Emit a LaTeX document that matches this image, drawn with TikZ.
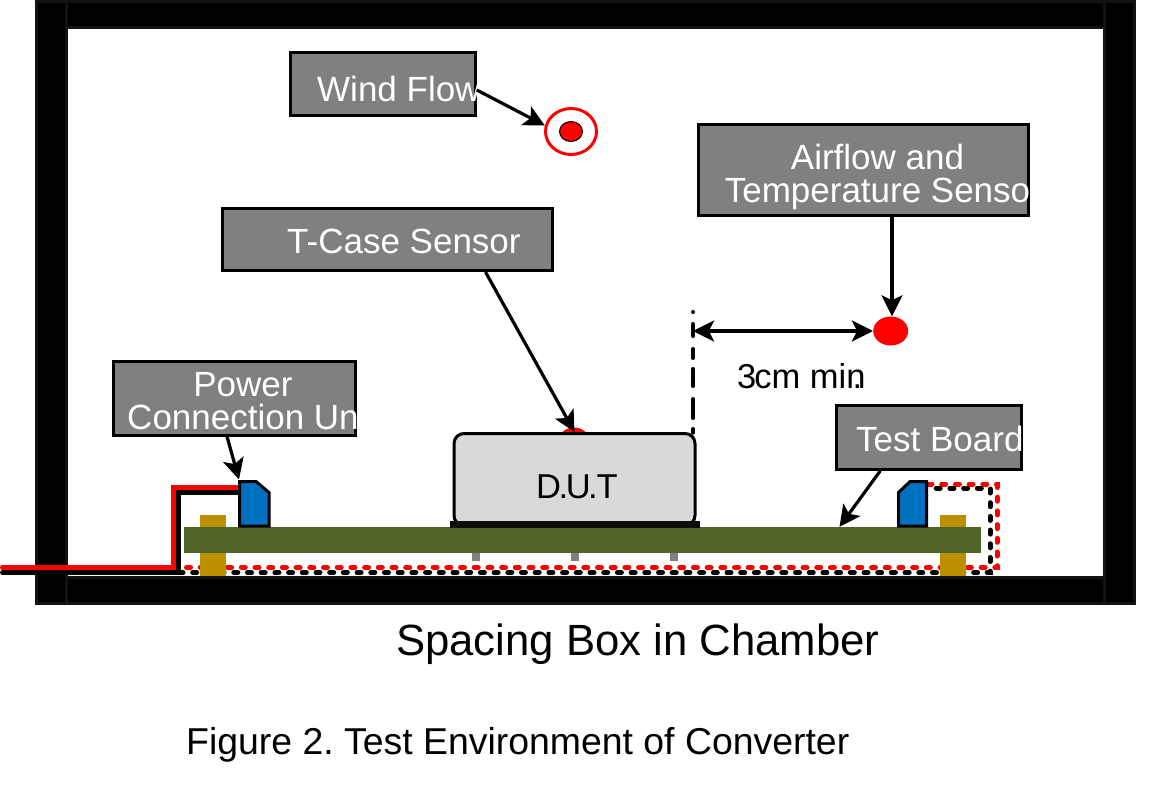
\documentclass[tikz,border=0pt]{standalone}
\usepackage{fontspec}
\setmainfont{Liberation Sans}
\frenchspacing
\usetikzlibrary{arrows.meta, shapes.geometric}
\definecolor{boardgreen}{HTML}{53642A}
\definecolor{standoff}{HTML}{BC8F00}
\definecolor{connblue}{HTML}{0070C0}
\definecolor{dutgray}{HTML}{D9D9D9}
\definecolor{walledge}{HTML}{121212}
\tikzset{
	wall/.style={fill=black, draw=walledge, line width=3pt},
	labelbox/.style={draw=black, fill=gray, line width=3pt, inner sep=0pt, rectangle},
	boxtext/.style={text=white, inner sep=0pt, align=center, font=\fontsize{35}{33}\selectfont},
	blacktext/.style={text=black, inner sep=0pt, font=\fontsize{34.5}{33}\selectfont},
	pointer/.style={line width=3.2pt, -{Stealth[length=21pt, width=21pt, inset=5pt]}},
	wire/.style={line width=5pt, line cap=round, miter limit=10},
	dashwire/.style={wire, dash pattern=on 4pt off 9.7pt},
}
\begin{document}
\begin{tikzpicture}[x=1pt, y=-1pt]
	\useasboundingbox (0, 0) rectangle (1170, 786);
	%wires
	\path (2.5, 567.5) coordinate (RedIn);
	\path (173, 487) coordinate (RedUp);
	\path (2.5, 572.5) coordinate (BlackIn);
	\path (178, 492) coordinate (BlackUp);
	\path (240, 487) coordinate (RedEnd);
	\path (240, 492) coordinate (BlackEnd);
	%walls
	\draw[wall] (36.5, 1.5) rectangle (1134.5, 27.5);
	\draw[wall] (36.5, 577.5) rectangle (1134.5, 603);
	\draw[wall] (36.5, 1.5) rectangle (66.5, 603);
	\draw[wall] (1104.5, 1.5) rectangle (1134.5, 603);
	%dashed wires
	\draw[dashwire, red] (186.5, 567.5)--(997, 567.5)--(997, 484)--(928, 484);
	\draw[dashwire, black] (179, 572.5)--(990, 572.5)--(990, 488)--(928, 488);
	%solid wires
	\draw[wire, black] (BlackIn)-|(BlackUp)--(BlackEnd);
	\draw[wire, red] (RedIn)-|(RedUp)--(RedEnd);
	%standoffs
	\fill[standoff] (200, 515) rectangle (226, 576);
	\fill[standoff] (940, 515) rectangle (966, 576);
	%board
	\node[fill=boardgreen, minimum width=797pt, minimum height=26pt, inner sep=0pt] (board) at (582.5, 540) {};
	\foreach \pinx in {476, 575, 674}
		\fill[gray] (\pinx-4, 553) rectangle (\pinx+4, 561);
	%connectors
	\draw[fill=connblue, line width=3pt] (239.5, 526)--(239.5, 481.5)--(256, 481.5)--(269, 492.5)--(269, 526)--cycle;
	\draw[fill=connblue, line width=3pt] (926.5, 526)--(926.5, 481.5)--(910, 481.5)--(898.5, 492.5)--(898.5, 526)--cycle;
	\path (239, 479.5) coordinate (PowerPin);
	%D.U.T
	\node[ellipse, fill=red, minimum width=29pt, minimum height=23pt, inner sep=0pt] (casesensor) at (574, 439) {};
	\node[draw=black, fill=dutgray, line width=3pt, rounded corners=10pt, minimum width=241pt, minimum height=92pt, inner sep=0pt] (dut) at (574.5, 479.5) {};
	\fill[black!95] (450, 521) rectangle (700, 528);
	\node[blacktext, anchor=base] (dutlabel) at (577, 498) {D\kern-2.5pt.\kern-2.5pt U\kern-2.5pt.\kern-1pt T};
	%wind flow
	\node[ellipse, draw=red, fill=white, line width=3pt, minimum width=51pt, minimum height=46pt, inner sep=0pt] (windring) at (571, 131.5) {};
	\node[ellipse, draw=black, fill=red, line width=1pt, minimum width=23pt, minimum height=20pt, inner sep=0pt] (windsensor) at (571, 131.5) {};
	\node[labelbox, line width=2.5pt, minimum width=185pt, minimum height=63pt] (wind) at (383, 84) {};
	\begin{scope}
		\clip (wind.north west) rectangle (wind.south east);
		\node[boxtext, anchor=base west] (windlabel) at (317, 101.5) {Wind Flow};
	\end{scope}
	\path (wind.east)++(0, 6) coordinate (windout);
	\draw[pointer] (windout)--(windring.167);
	%T-case
	\node[labelbox, minimum width=330pt, minimum height=62pt] (tcase) at (387.5, 239.5) {};
	\node[boxtext, anchor=base west] (tcaselabel) at (287, 254) {T-Case Sensor};
	\path (tcase.south)++(98, 0) coordinate (tcaseout);
	\draw[pointer] (tcaseout)--(dut.north);
	%airflow
	\node[ellipse, fill=red, minimum width=35pt, minimum height=29pt, inner sep=0pt] (airsensor) at (890.7, 331) {};
	\node[labelbox, minimum width=330pt, minimum height=91pt] (airflow) at (863, 170.5) {};
	\begin{scope}
		\clip (airflow.north west) rectangle (airflow.south east);
		\node[boxtext] (airflowlabel) at (877.5, 176.5) {Airflow and\\Temperature Senso};
	\end{scope}
	\path (airflow.south)++(29, 0) coordinate (airout);
	\draw[pointer] (airout)--(airout |- airsensor.north);
	%spacing
	\path (693, 311.75) coordinate (SpaceTop);
	\path (693, 433) coordinate (SpaceEnd);
	\path (693, 331) coordinate (SpaceLeft);
	\draw[line width=3.5pt, line cap=round, dash pattern=on 0.5pt off 11.5pt on 12.5pt off 12.5pt on 9.5pt off 10.5pt on 17.5pt off 12.5pt on 19.5pt off 10.5pt on 10pt off 20pt] (SpaceTop)--(SpaceEnd);
	\draw[pointer, {Stealth[length=21pt, width=21pt, inset=5pt]}-{Stealth[length=21pt, width=21pt, inset=5pt]}] (SpaceLeft)--(airsensor.west);
	\node[blacktext, anchor=base west] (spacelabel) at (737, 388) {3\kern-2pt cm min\kern-13pt.};
	%power
	\node[labelbox, minimum width=242pt, minimum height=74pt] (power) at (234, 398) {};
	\begin{scope}
		\clip (power.north west) rectangle (power.south east);
		\node[boxtext] (powerlabel) at (243, 401) {Power\\Connection Un};
	\end{scope}
	\path (power.south)++(-7, 0) coordinate (powerout);
	\draw[pointer] (powerout)--(PowerPin);
	%test board
	\node[labelbox, minimum width=185pt, minimum height=64pt] (testboard) at (928.8, 437.3) {};
	\begin{scope}
		\clip (testboard.north west) rectangle (testboard.south east);
		\node[boxtext, anchor=base west] (testlabel) at (856, 451.5) {Test Board};
	\end{scope}
	\path (testboard.south)++(-48.5, 0) coordinate (testout);
	\path (board.north)++(257, 0) coordinate (testin);
	\draw[pointer] (testout)--(testin);
	%captions
	\node[anchor=base west, inner sep=0pt, font=\fontsize{43.7}{44}\selectfont] (chamber) at (396, 655) {Spacing Box in Chamber};
	\node[anchor=base west, inner sep=0pt, font=\fontsize{37.4}{38}\selectfont] (figure) at (186, 754) {Figure 2. Test Environment of Converter};
\end{tikzpicture}
\end{document}
